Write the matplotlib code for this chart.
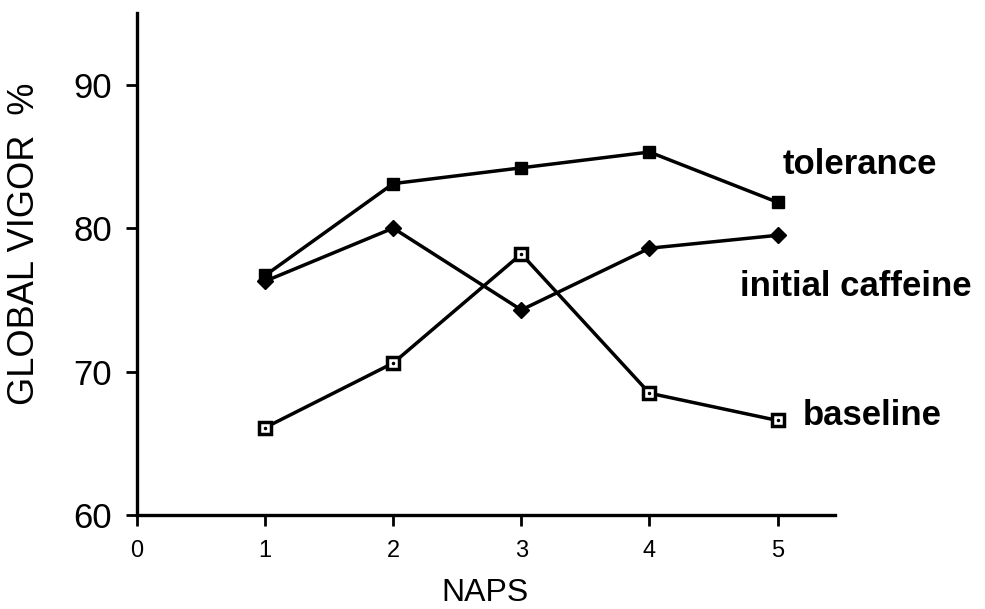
import matplotlib
matplotlib.use('Agg')
import matplotlib.pyplot as plt

plt.rcParams['font.family'] = ['Liberation Sans', 'DejaVu Sans']

naps = [1, 2, 3, 4, 5]
tolerance = [76.7, 83.1, 84.2, 85.3, 81.8]
initial_caffeine = [76.3, 80.0, 74.3, 78.6, 79.5]
baseline = [66.1, 70.6, 78.2, 68.5, 66.6]

x_ticks = [0, 1, 2, 3, 4, 5]
y_ticks = [60, 70, 80, 90]

fig = plt.figure(figsize=(9.85, 6.09), dpi=100)
ax = fig.add_axes([0.139, 0.154, 0.709, 0.825])

ax.plot(naps, tolerance, color='black', lw=2.5, marker='s', ms=9,
        mfc='black', mec='black', zorder=3)
ax.plot(naps, initial_caffeine, color='black', lw=2.5, marker='D', ms=8,
        mfc='black', mec='black', zorder=3)
ax.plot(naps, baseline, color='black', lw=2.5, marker='s', ms=8,
        mfc='white', mec='black', mew=2.5, zorder=4)
ax.plot(naps, baseline, ls='none', marker='.', ms=3, color='black', zorder=5)

ax.text(5.04, 84.4, 'tolerance', fontsize=25, fontweight='bold', va='center')
ax.text(4.71, 75.9, 'initial caffeine', fontsize=25, fontweight='bold', va='center')
ax.text(5.2, 66.95, 'baseline', fontsize=25, fontweight='bold', va='center')

ax.set_xlim(0, 5.45)
ax.set_ylim(60, 95)
ax.set_xticks(x_ticks)
ax.set_yticks(y_ticks)
ax.tick_params(axis='y', labelsize=25, length=8, width=2, direction='out', pad=10)
ax.tick_params(axis='x', labelsize=17, length=8, width=2, direction='out', pad=10)
for lab in ax.get_xticklabels():
    lab.set_family(['Liberation Sans Narrow', 'DejaVu Sans Condensed', 'Liberation Sans'])

ax.spines['top'].set_visible(False)
ax.spines['right'].set_visible(False)
ax.spines['left'].set_linewidth(2.4)
ax.spines['bottom'].set_linewidth(2.4)

ax.set_xlabel('NAPS', fontsize=23)
ax.set_ylabel('GLOBAL VIGOR  %', fontsize=26)
ax.xaxis.set_label_coords(0.499, -0.125)
ax.yaxis.set_label_coords(-0.136, 0.54)

fig.savefig('out.png', dpi=100)
